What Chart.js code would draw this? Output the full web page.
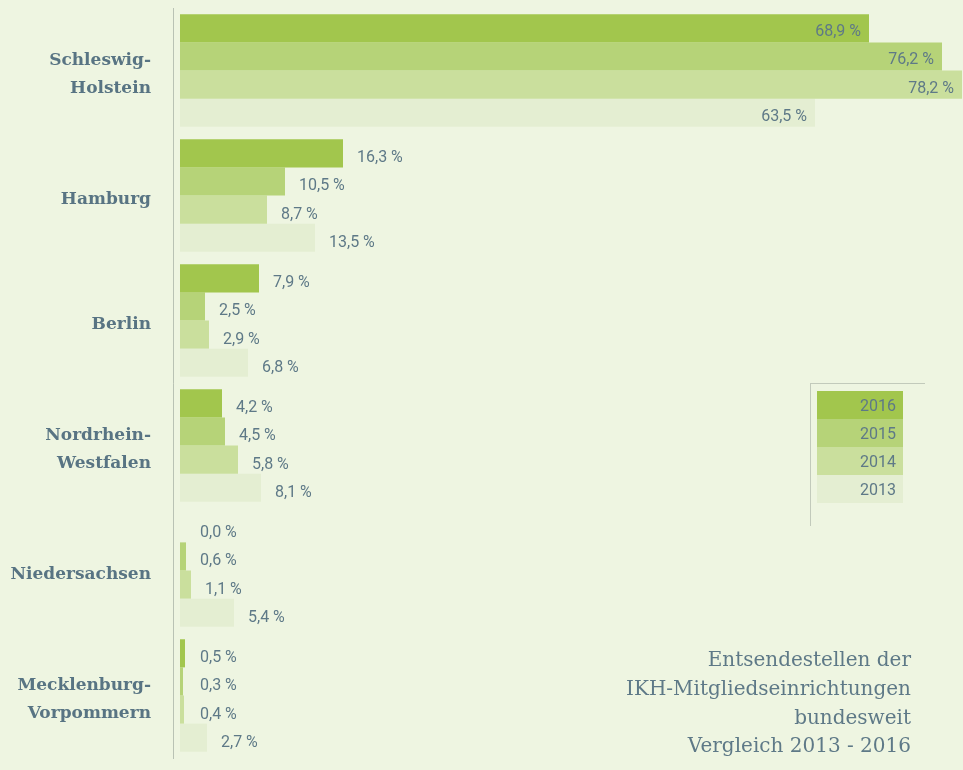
<!DOCTYPE html>
<html>
<head>
<meta charset="utf-8">
<script src="https://cdn.jsdelivr.net/npm/chart.js@4"></script>
<style>
  body { margin: 0; background: #eef5e1; }
  canvas { display: block; }
</style>
</head>
<body>
<canvas id="chart" width="963" height="770"></canvas>
<script>
const categories = [
  ['Schleswig-', 'Holstein'],
  'Hamburg',
  'Berlin',
  ['Nordrhein-', 'Westfalen'],
  'Niedersachsen',
  ['Mecklenburg-', 'Vorpommern'],
];
const years = ['2016', '2015', '2014', '2013'];
const values2016 = [68.9, 16.3, 7.9, 4.2, 0.0, 0.5];
const values2015 = [76.2, 10.5, 2.5, 4.5, 0.6, 0.3];
const values2014 = [78.2, 8.7, 2.9, 5.8, 1.1, 0.4];
const values2013 = [63.5, 13.5, 6.8, 8.1, 5.4, 2.7];
const titleLines = [
  'Entsendestellen der',
  'IKH-Mitgliedseinrichtungen',
  'bundesweit',
  'Vergleich 2013 - 2016',
];

const colors = ['#a2c64d', '#b6d378', '#cadf9d', '#e4eed2'];
const textColor = '#5e7987';
const fmt = v => v.toFixed(1).replace('.', ',') + ' %';

// value labels next to / inside the bars
const valueLabels = {
  id: 'valueLabels',
  afterDatasetsDraw(chart) {
    const ctx = chart.ctx;
    ctx.save();
    ctx.font = '16px Roboto';
    ctx.fillStyle = textColor;
    ctx.textBaseline = 'middle';
    chart.data.datasets.forEach((ds, i) => {
      chart.getDatasetMeta(i).data.forEach((bar, j) => {
        const v = ds.data[j];
        if (v > 50) {
          ctx.textAlign = 'right';
          ctx.fillText(fmt(v), bar.x - 8, bar.y + 4);
        } else {
          ctx.textAlign = 'left';
          ctx.fillText(fmt(v), Math.max(bar.x, bar.base + 6) + 14, bar.y + 5);
        }
      });
    });
    ctx.restore();
  }
};

// legend boxes and title text
const extras = {
  id: 'extras',
  afterDraw(chart) {
    const ctx = chart.ctx;
    ctx.save();
    // legend
    ctx.strokeStyle = 'rgba(150,160,150,0.5)';
    ctx.lineWidth = 1;
    ctx.beginPath();
    ctx.moveTo(810.5, 384); ctx.lineTo(810.5, 526);
    ctx.moveTo(810, 383.5); ctx.lineTo(925, 383.5);
    ctx.stroke();
    years.forEach((y, i) => {
      ctx.fillStyle = colors[i];
      ctx.fillRect(817, 391 + i * 28, 86, 28);
      ctx.fillStyle = textColor;
      ctx.font = '16px Roboto';
      ctx.textAlign = 'right';
      ctx.textBaseline = 'middle';
      ctx.fillText(y, 896, 391 + i * 28 + 16);
    });
    // title
    ctx.font = '20px "DejaVu Serif"';
    ctx.fillStyle = textColor;
    ctx.textAlign = 'right';
    ctx.textBaseline = 'middle';
    titleLines.forEach((t, i) => ctx.fillText(t, 911, 661 + i * 28.7));
    ctx.restore();
  }
};

new Chart(document.getElementById('chart'), {
  type: 'bar',
  data: {
    labels: categories,
    datasets: [
      { label: years[0], data: values2016, backgroundColor: colors[0] },
      { label: years[1], data: values2015, backgroundColor: colors[1] },
      { label: years[2], data: values2014, backgroundColor: colors[2] },
      { label: years[3], data: values2013, backgroundColor: colors[3] },
    ],
  },
  options: {
    indexAxis: 'y',
    responsive: false,
    animation: false,
    categoryPercentage: 0.9,
    barPercentage: 1.0,
    layout: { padding: { top: 8, bottom: 12, left: 0, right: 0 } },
    plugins: {
      legend: { display: false },
      tooltip: { enabled: false },
    },
    scales: {
      x: {
        display: false,
        min: -0.7,
        max: 78.3,
      },
      y: {
        afterFit(scale) {
          scale.width = 173;
          scale.paddingTop = 0;
          scale.paddingBottom = 0;
        },
        grid: { display: false, drawTicks: false },
        border: { display: true, color: 'rgba(150,160,150,0.6)', width: 1 },
        ticks: {
          padding: 22,
          labelOffset: 4,
          color: '#587483',
          font: { family: '"DejaVu Serif"', size: 17, weight: 'bold', lineHeight: 1.65 },
        },
      },
    },
  },
  plugins: [valueLabels, extras],
});
</script>
</body>
</html>
